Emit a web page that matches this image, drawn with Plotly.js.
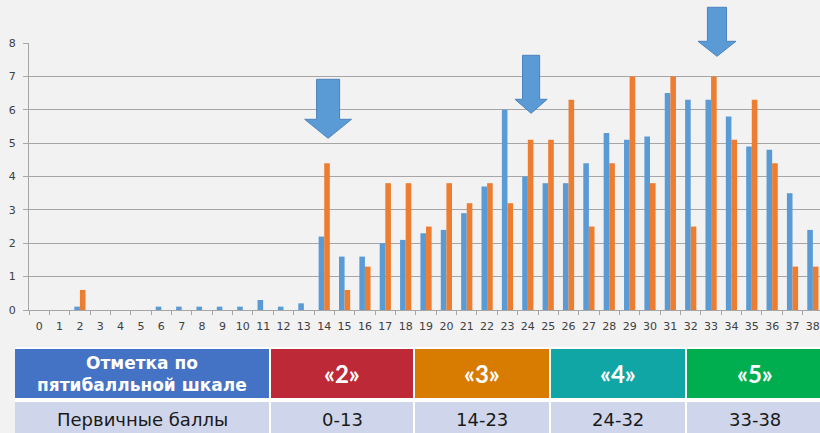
<!DOCTYPE html>
<html>
<head>
<meta charset="utf-8">
<script src="https://cdn.plot.ly/plotly-3.0.1.min.js"></script>
<style>
html,body{margin:0;padding:0;overflow:hidden;background:#f2f2f2;}
#chart{width:820px;height:440px;}
</style>
</head>
<body>
<div id="chart"></div>
<script>
// ---- data ----
const categories = [0,1,2,3,4,5,6,7,8,9,10,11,12,13,14,15,16,17,18,19,20,21,22,23,24,25,26,27,28,29,30,31,32,33,34,35,36,37,38];
const blueSeries = [0,0,0.1,0,0,0,0.1,0.1,0.1,0.1,0.1,0.3,0.1,0.2,2.2,1.6,1.6,2.0,2.1,2.3,2.4,2.9,3.7,6.0,4.0,3.8,3.8,4.4,5.3,5.1,5.2,6.5,6.3,6.3,5.8,4.9,4.8,3.5,2.4];
const orangeSeries = [0,0,0.6,0,0,0,0,0,0,0,0,0,0,0,4.4,0.6,1.3,3.8,3.8,2.5,3.8,3.2,3.8,3.2,5.1,5.1,6.3,2.5,4.4,7.0,3.8,7.0,2.5,7.0,5.1,6.3,4.4,1.3,1.3];
const tickLabels = categories.map(String);
const headerTitle = ['Отметка по', 'пятибалльной шкале'];
const gradeLabels = ['«2»', '«3»', '«4»', '«5»'];
const rowTitle = 'Первичные баллы';
const scoreRanges = ['0-13', '14-23', '24-32', '33-38'];
// arrows marking grade thresholds: [x tip, y tip, y head base, y top, shaft half-width, head half-width]
const arrowSpecs = [
  [14.19, 5.15, 5.72, 6.92, 0.565, 1.15],
  [24.16, 5.90, 6.32, 7.64, 0.42, 0.79],
  [33.29, 7.61, 8.06, 9.08, 0.47, 0.93]
];

// ---- geometry helpers ----
const W = 820, H = 440, ML = 15, MT = 43;
const plotLeft = 29, plotRight = 820, plotBottom = 310, plotTop = 43.3;
const xr = [-0.5, 38.35], yr = [0, 8];
const pX = px => (px - ML) / (W - ML);
const pY = py => (H - py) / (H - MT);
const dX = x => pX(plotLeft + (x - xr[0]) * (plotRight - plotLeft) / (xr[1] - xr[0]));
const dY = v => pY(plotBottom - (v - yr[0]) * (plotBottom - plotTop) / (yr[1] - yr[0]));
const dW = w => w * (plotRight - plotLeft) / (xr[1] - xr[0]) / (W - ML);

const shapes = [];
arrowSpecs.forEach(a => {
  const [x, tip, base, top, sw, hw] = a;
  const cx = dX(x), s = dW(sw), h = dW(hw);
  const path = `M ${cx - s} ${dY(top)} L ${cx + s} ${dY(top)} L ${cx + s} ${dY(base)} L ${cx + h} ${dY(base)} L ${cx} ${dY(tip)} L ${cx - h} ${dY(base)} L ${cx - s} ${dY(base)} Z`;
  shapes.push({type: 'path', xref: 'paper', yref: 'paper', path: path,
    fillcolor: '#5b9bd5', line: {color: '#4a82bd', width: 1}, layer: 'above'});
});

// table
const colEdges = [[15, 269], [271, 413], [415, 549], [551, 685], [687, 822]];
const rowEdges = [[349, 398], [402, 441]];
const headerColors = ['#4472c4', '#be2937', '#d87b01', '#0fa6a5', '#00ae4f'];
const bodyColor = '#cfd5ea';
shapes.push({type: 'rect', xref: 'paper', yref: 'paper', x0: pX(15), x1: pX(822), y0: pY(347), y1: pY(441),
  fillcolor: '#ffffff', line: {width: 0}, layer: 'below'});
colEdges.forEach((c, i) => {
  shapes.push({type: 'rect', xref: 'paper', yref: 'paper', x0: pX(c[0]), x1: pX(c[1]), y0: pY(rowEdges[0][1]), y1: pY(rowEdges[0][0]),
    fillcolor: headerColors[i], line: {width: 0}, layer: 'below'});
  shapes.push({type: 'rect', xref: 'paper', yref: 'paper', x0: pX(c[0]), x1: pX(c[1]), y0: pY(rowEdges[1][1]), y1: pY(rowEdges[1][0]),
    fillcolor: bodyColor, line: {width: 0}, layer: 'below'});
});

const annotations = [];
const colCenter = i => pX((colEdges[i][0] + colEdges[i][1]) / 2);
annotations.push({xref: 'paper', yref: 'paper', x: colCenter(0), y: pY(363), text: headerTitle[0], showarrow: false,
  xanchor: 'center', yanchor: 'middle', font: {family: 'DejaVu Sans', size: 17, color: '#ffffff', weight: 'bold'}});
annotations.push({xref: 'paper', yref: 'paper', x: colCenter(0), y: pY(385), text: headerTitle[1], showarrow: false,
  xanchor: 'center', yanchor: 'middle', font: {family: 'DejaVu Sans', size: 17, color: '#ffffff', weight: 'bold'}});
gradeLabels.forEach((g, i) => {
  annotations.push({xref: 'paper', yref: 'paper', x: colCenter(i + 1), y: pY(373), text: g, showarrow: false,
    xanchor: 'center', yanchor: 'middle', font: {family: 'Lato', size: 24, color: '#ffffff', weight: 'bold'}});
});
annotations.push({xref: 'paper', yref: 'paper', x: colCenter(0), y: pY(419), text: rowTitle, showarrow: false,
  xanchor: 'center', yanchor: 'middle', font: {family: 'DejaVu Sans', size: 18, color: '#1a1a1a'}});
scoreRanges.forEach((r, i) => {
  annotations.push({xref: 'paper', yref: 'paper', x: colCenter(i + 1), y: pY(419), text: r, showarrow: false,
    xanchor: 'center', yanchor: 'middle', font: {family: 'DejaVu Sans', size: 18, color: '#1a1a1a'}});
});

const traces = [
  {type: 'bar', x: categories, y: blueSeries, marker: {color: '#5b9bd5'}, hoverinfo: 'none'},
  {type: 'bar', x: categories, y: orangeSeries, marker: {color: '#ed7d31'}, hoverinfo: 'none'}
];

const layout = {
  width: W, height: H,
  margin: {l: ML, r: 0, t: MT, b: 0, pad: 0},
  paper_bgcolor: '#f2f2f2', plot_bgcolor: '#f2f2f2',
  showlegend: false,
  barmode: 'group', bargap: 0.45, bargroupgap: 0,
  font: {family: 'DejaVu Sans', size: 11, color: '#404040'},
  xaxis: {
    domain: [(plotLeft - ML) / (W - ML), 1],
    range: xr, tickmode: 'array', tickvals: categories, ticktext: tickLabels,
    ticks: '', showgrid: false, zeroline: false,
    showline: true, linecolor: '#a6a6a6', linewidth: 1,
    ticklabelstandoff: 6,
    tickfont: {family: 'DejaVu Sans', size: 11, color: '#404040'},
    minor: {tickmode: 'array', tickvals: categories.map(c => c - 0.5), ticks: 'outside', ticklen: 4, tickcolor: '#a6a6a6', tickwidth: 1, showgrid: false}
  },
  yaxis: {
    domain: [(H - plotBottom) / (H - MT), 1],
    range: yr, dtick: 1, tick0: 0,
    showgrid: true, gridcolor: '#a6a6a6', gridwidth: 1, zeroline: false,
    showline: true, linecolor: '#a6a6a6', linewidth: 1,
    ticks: 'outside', ticklen: 5, tickcolor: '#a6a6a6',
    ticklabelstandoff: 5,
    tickfont: {family: 'DejaVu Sans', size: 11, color: '#404040'}
  },
  shapes: shapes,
  annotations: annotations
};

Plotly.newPlot('chart', traces, layout, {displayModeBar: false, staticPlot: true});
</script>
</body>
</html>
